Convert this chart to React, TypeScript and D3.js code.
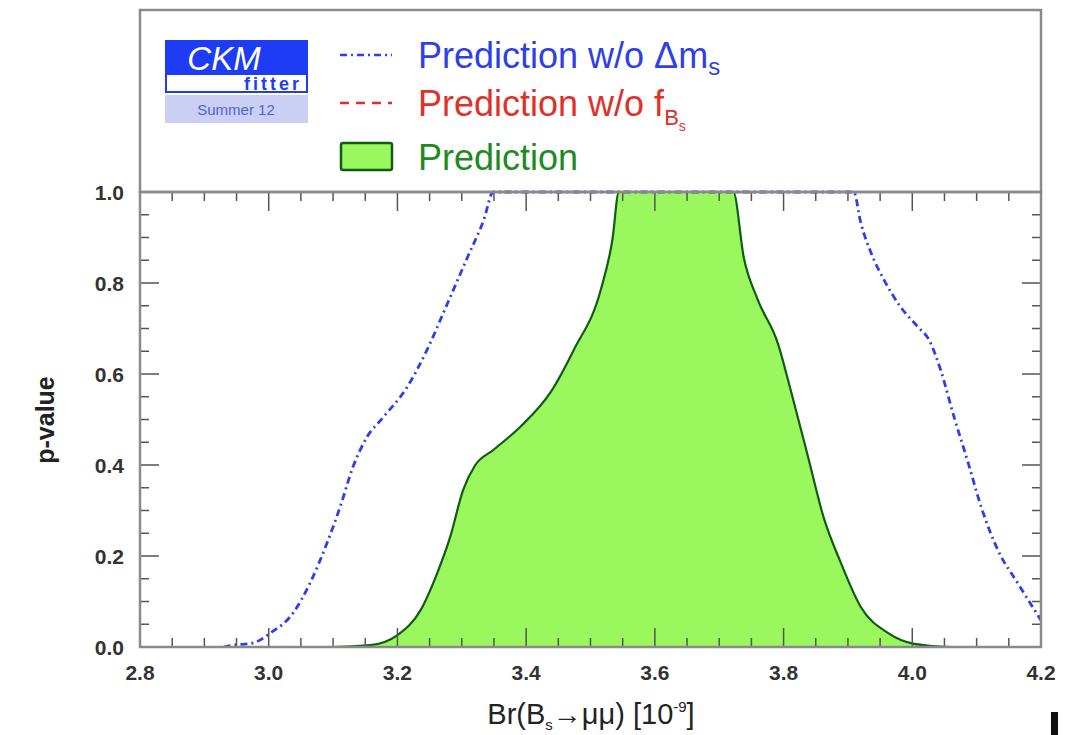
import React from 'react';
import * as d3 from 'd3';

// p-value curves
const predX = [2.8, 3.1, 3.158, 3.2, 3.236, 3.262, 3.282, 3.302, 3.321, 3.349, 3.391, 3.438, 3.474, 3.516, 3.534, 3.544, 3.722, 3.738, 3.76, 3.791, 3.811, 3.838, 3.862, 3.889, 3.92, 3.962, 4.003, 4.06, 4.2];
const predP = [0, 0, 0.004, 0.026, 0.081, 0.163, 0.242, 0.345, 0.4, 0.433, 0.484, 0.56, 0.653, 0.785, 0.895, 1.0, 1.0, 0.857, 0.763, 0.668, 0.565, 0.418, 0.286, 0.185, 0.088, 0.031, 0.007, 0, 0];

const noDmX = [2.93, 2.945, 2.976, 3.002, 3.038, 3.064, 3.091, 3.111, 3.131, 3.153, 3.178, 3.215, 3.246, 3.278, 3.309, 3.334, 3.349, 3.909, 3.92, 3.936, 3.956, 3.982, 4.009, 4.026, 4.044, 4.065, 4.087, 4.107, 4.133, 4.164, 4.2];
const noDmP = [0, 0.004, 0.009, 0.03, 0.075, 0.14, 0.23, 0.308, 0.396, 0.462, 0.505, 0.571, 0.653, 0.756, 0.857, 0.938, 1.0, 1.0, 0.932, 0.866, 0.807, 0.747, 0.703, 0.675, 0.609, 0.505, 0.404, 0.308, 0.213, 0.14, 0.059];

const xTickLabels = ['2.8', '3.0', '3.2', '3.4', '3.6', '3.8', '4.0', '4.2'];
const yTickLabels = ['0.0', '0.2', '0.4', '0.6', '0.8', '1.0'];

const W = 1070;
const H = 735;
const left = 140, right = 1041, top = 192, bottom = 647;
const frameTop = 10;

const BLUE = '#2f3fe8';
const RED = '#e0302a';
const GREEN_FILL = '#9af75e';
const GREEN_LINE = '#0f5c12';
const GREEN_TEXT = '#1d8a22';
const AXIS = '#8a8a8a';
const TICK = '#555';

export default function App() {
  const x = d3.scaleLinear().domain([2.8, 4.2]).range([left, right]);
  const y = d3.scaleLinear().domain([0, 1]).range([bottom, top]);

  const pred = predX.map((v, i) => [v, predP[i]] as [number, number]);
  const noDm = noDmX.map((v, i) => [v, noDmP[i]] as [number, number]);

  const area = d3.area<[number, number]>()
    .x(d => x(d[0])).y0(y(0)).y1(d => y(d[1]))
    .curve(d3.curveMonotoneX);
  const line = d3.line<[number, number]>()
    .x(d => x(d[0])).y(d => y(d[1]))
    .curve(d3.curveMonotoneX);

  // ticks: majors every 0.2, minors every 0.05
  const xMinor = d3.range(0, 29).map(i => 2.8 + i * 0.05);
  const yMinor = d3.range(0, 21).map(i => i * 0.05);
  const isMajor = (v: number, base: number) => Math.abs(((v - base) / 0.2) - Math.round((v - base) / 0.2)) < 1e-6;
  const MAJ = 19, MIN = 9;

  const font = 'Liberation Sans, Arial, Helvetica, sans-serif';

  return (
    <div style={{ position: 'fixed', left: 0, top: 0 }}>
      <svg width={W} height={H} style={{ display: 'block', background: '#fff' }}>
        <defs>
          <clipPath id="plotclip">
            <rect x={left} y={top - 2} width={right - left} height={bottom - top + 2} />
          </clipPath>
        </defs>

        {/* legend box */}
        <rect x={left} y={frameTop} width={right - left} height={top - frameTop} fill="#fff" stroke={AXIS} strokeWidth={2.5} />

        {/* CKMfitter logo */}
        <g fontFamily={font}>
          <rect x={165} y={40} width={143} height={33} fill="#1f3cf5" />
          <text x={224} y={70} fill="#fff" fontSize={33} fontStyle="italic" textAnchor="middle">CKM</text>
          <rect x={166} y={74} width={141} height={18} fill="#fff" stroke="#1f3cf5" strokeWidth={2} />
          <text x={302} y={90} fill="#1f3cf5" fontSize={18} fontWeight="bold" textAnchor="end" letterSpacing={3}>fitter</text>
          <rect x={165} y={95} width={143} height={28} fill="#cbcff3" />
          <text x={236} y={115} fill="#4d63db" fontSize={15} textAnchor="middle">Summer 12</text>
        </g>

        {/* legend entries */}
        <g fontFamily={font}>
          <line x1={340} x2={392} y1={55} y2={55} stroke={BLUE} strokeWidth={2.5} strokeDasharray="7,4,2,4" />
          <text x={418} y={68} fill={BLUE} fontSize={36}>
            Prediction w/o Δm<tspan fontSize={24} dy={7}>s</tspan>
          </text>
          <line x1={340} x2={392} y1={103} y2={103} stroke={RED} strokeWidth={2.5} strokeDasharray="9,7" />
          <text x={418} y={116} fill={RED} fontSize={36}>
            Prediction w/o f<tspan fontSize={22} dy={9}>B</tspan><tspan fontSize={14} dy={6}>s</tspan>
          </text>
          <rect x={341} y={143} width={51} height={27} fill={GREEN_FILL} stroke={GREEN_LINE} strokeWidth={2.5} rx={2} />
          <text x={418} y={170} fill={GREEN_TEXT} fontSize={36}>Prediction</text>
        </g>

        {/* plot curves */}
        <g clipPath="url(#plotclip)">
          <path d={area(pred) || ''} fill={GREEN_FILL} />
          <path d={line(pred) || ''} fill="none" stroke={GREEN_LINE} strokeWidth={2.2} />
          <path d={line(noDm) || ''} fill="none" stroke={BLUE} strokeWidth={2.8} strokeDasharray="7,4,2,4" />
        </g>

        {/* ticks */}
        <g stroke={TICK} strokeWidth={1.5}>
          {xMinor.map((v, i) => {
            const len = isMajor(v, 2.8) ? MAJ : MIN;
            return (
              <g key={'xt' + i}>
                <line x1={x(v)} x2={x(v)} y1={bottom} y2={bottom - len} />
                <line x1={x(v)} x2={x(v)} y1={top} y2={top + len} />
              </g>
            );
          })}
          {yMinor.map((v, i) => {
            const len = isMajor(v, 0) ? MAJ : MIN;
            return (
              <g key={'yt' + i}>
                <line x1={left} x2={left + len} y1={y(v)} y2={y(v)} />
                <line x1={right} x2={right - len} y1={y(v)} y2={y(v)} />
              </g>
            );
          })}
        </g>

        {/* plot frame */}
        <rect x={left} y={top} width={right - left} height={bottom - top} fill="none" stroke={AXIS} strokeWidth={2.5} />

        {/* tick labels */}
        <g fontFamily={font} fontWeight="bold" fontSize={21} fill="#333">
          {xTickLabels.map(t => (
            <text key={'xl' + t} x={x(+t)} y={680} textAnchor="middle">{t}</text>
          ))}
          {yTickLabels.map(t => (
            <text key={'yl' + t} x={124} y={y(+t) + 8} textAnchor="end">{t}</text>
          ))}
        </g>

        {/* axis titles */}
        <text x={0} y={0} transform="translate(54,420) rotate(-90)" textAnchor="middle"
          fontFamily={font} fontWeight="bold" fontSize={25} fill="#222">p-value</text>
        <text x={591} y={724} textAnchor="middle" fontFamily={font} fontSize={29} fill="#222">
          Br(B<tspan fontSize={15} dy={6}>s</tspan><tspan dy={-6}>→μμ) [10</tspan><tspan fontSize={15} dy={-12}>-9</tspan><tspan dy={12}>]</tspan>
        </text>

        {/* stray mark at bottom right */}
        <rect x={1051} y={712} width={7} height={23} fill="#111" />
      </svg>
    </div>
  );
}
